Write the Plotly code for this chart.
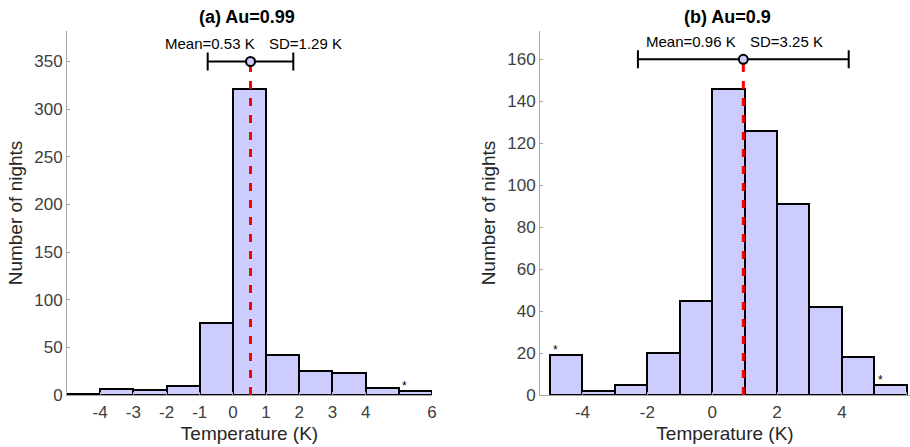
import plotly.graph_objects as go

# Histogram bins (K): each bin is [edge, edge + 1)
bin_edges = [-5, -4, -3, -2, -1, 0, 1, 2, 3, 4, 5]
counts_a = [1, 6, 5, 9, 76, 321, 42, 25, 23, 7, 4]
counts_b = [19, 2, 5, 20, 45, 146, 126, 91, 42, 18, 5]

# Summary statistics drawn as mean marker with ±SD bar
mean_a, sd_a, level_a = 0.53, 1.29, 350
mean_b, sd_b, level_b = 0.96, 3.25, 160

# Bins flagged with an asterisk (open-ended outlier bins)
flagged_a = [5]
flagged_b = [-5, 5]

titles = ["(a) Au=0.99", "(b) Au=0.9"]
xticks_a = [-4, -3, -2, -1, 0, 1, 2, 3, 4, 6]
xticks_b = [-4, -2, 0, 2, 4, 6]
yticks_a = [0, 50, 100, 150, 200, 250, 300, 350]
yticks_b = [0, 20, 40, 60, 80, 100, 120, 140, 160]

FILL = "#ccccff"
FONT = "Liberation Sans, Arial, Helvetica, sans-serif"

fig = go.Figure()

panels = [
    dict(counts=counts_a, mean=mean_a, sd=sd_a, level=level_a, flagged=flagged_a,
         xa="x", ya="y", label_dx=11),
    dict(counts=counts_b, mean=mean_b, sd=sd_b, level=level_b, flagged=flagged_b,
         xa="x2", ya="y2", label_dx=0),
]

for p in panels:
    centers = [e + 0.5 for e in bin_edges]
    fig.add_trace(go.Bar(
        x=centers, y=p["counts"], width=1.0,
        marker=dict(color=FILL, line=dict(color="black", width=2)),
        xaxis=p["xa"], yaxis=p["ya"], showlegend=False, hoverinfo="skip",
    ))
    # dashed mean line
    fig.add_trace(go.Scatter(
        x=[p["mean"], p["mean"]], y=[0, p["level"]], mode="lines",
        line=dict(color="red", width=3, dash="8px,9px"),
        xaxis=p["xa"], yaxis=p["ya"], showlegend=False, hoverinfo="skip",
    ))
    # mean marker with SD error bar
    fig.add_trace(go.Scatter(
        x=[p["mean"]], y=[p["level"]], mode="markers",
        marker=dict(symbol="circle", size=9, color=FILL,
                    line=dict(color="black", width=2)),
        error_x=dict(type="data", array=[p["sd"]], color="black",
                     thickness=2, width=9),
        xaxis=p["xa"], yaxis=p["ya"], showlegend=False, hoverinfo="skip",
    ))
    ref_x = p["xa"]
    ref_y = p["ya"]
    fig.add_annotation(
        x=p["mean"], y=p["level"], xref=ref_x, yref=ref_y,
        text=f"Mean={p['mean']:.2f} K", showarrow=False,
        xanchor="right", yanchor="bottom", xshift=p["label_dx"] - 5, yshift=7,
        font=dict(family=FONT, size=15, color="black"),
    )
    fig.add_annotation(
        x=p["mean"], y=p["level"], xref=ref_x, yref=ref_y,
        text=f"SD={p['sd']:.2f} K", showarrow=False,
        xanchor="left", yanchor="bottom", xshift=p["label_dx"] + 5, yshift=7,
        font=dict(family=FONT, size=15, color="black"),
    )
    for edge in p["flagged"]:
        cnt = p["counts"][bin_edges.index(edge)]
        fig.add_annotation(
            x=edge + 0.18, y=cnt, xref=ref_x, yref=ref_y,
            text="*", showarrow=False, xanchor="center", yanchor="bottom",
            yshift=-4, font=dict(family=FONT, size=12, color="black"),
        )

# Panel titles
for title, cx in zip(titles, [0.2715, 0.7995]):
    fig.add_annotation(
        x=cx, y=1.0, xref="paper", yref="paper", text=f"<b>{title}</b>",
        showarrow=False, xanchor="center", yanchor="top", yshift=-5,
        font=dict(family=FONT, size=18, color="black"),
    )

axis_common = dict(
    showgrid=False, zeroline=False, showline=True, linecolor="#a6a6a6",
    linewidth=1, ticks="inside", ticklen=3, tickcolor="#a6a6a6",
    tickfont=dict(family=FONT, size=17, color="#404040"),
    mirror=False, automargin=False,
)
xtitle = dict(text="Temperature (K)", font=dict(family=FONT, size=19, color="#262626"),
              standoff=5)
ytitle = dict(text="Number of nights", font=dict(family=FONT, size=19, color="#262626"),
              standoff=6)

y_dom = [52 / 447, 416 / 447]
fig.update_layout(
    width=910, height=447,
    margin=dict(l=0, r=0, t=0, b=0),
    paper_bgcolor="white", plot_bgcolor="white",
    bargap=0,
    xaxis=dict(axis_common, domain=[67 / 910, 432 / 910], range=[-5, 6],
               tickvals=xticks_a, ticktext=[str(v) for v in xticks_a],
               title=xtitle, anchor="y", ticklabelstandoff=2),
    yaxis=dict(axis_common, domain=y_dom, range=[0, 382],
               tickvals=yticks_a, title=ytitle, anchor="x"),
    xaxis2=dict(axis_common, domain=[540 / 910, 1.0], range=[-5.31, 6.1],
                tickvals=xticks_b, ticktext=[str(v) for v in xticks_b],
                title=xtitle, anchor="y2", ticklabelstandoff=2),
    yaxis2=dict(axis_common, domain=y_dom, range=[0, 173.5],
                tickvals=yticks_b, title=ytitle, anchor="x2"),
)

fig.write_html("out.html")
